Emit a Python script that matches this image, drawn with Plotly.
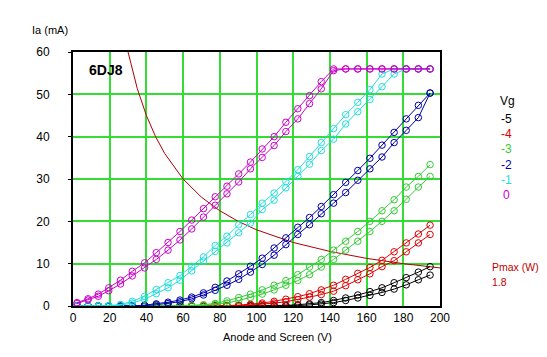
import plotly.graph_objects as go

# Anode voltage grid (V) at which each trace was sampled
V = [2.2, 8.2, 13.8, 19.5, 25.9, 32.3, 39.0, 45.4, 51.8, 58.3, 64.7, 71.1, 77.5, 83.9, 90.3,
     96.7, 103.1, 109.6, 116.0, 122.5, 128.9, 135.3, 142.0, 148.6, 155.2, 161.8, 168.4, 175.0,
     181.6, 188.2, 194.6]

# Anode current (mA), two traces per grid voltage
ia_m5_a = [0]*17 + [0.05, 0.15, 0.3, 0.5, 0.8, 1.3, 1.9, 2.6, 3.4, 4.3, 5.5, 6.7, 8.0, 9.3]
ia_m5_b = [0]*19 + [0.1, 0.25, 0.45, 0.8, 1.3, 1.9, 2.5, 3.2, 4.0, 5.0, 6.2, 7.3]

ia_m4_a = [0]*13 + [0.1, 0.2, 0.4, 0.7, 1.1, 1.6, 2.2, 2.9, 3.8, 4.9, 6.3, 7.7, 9.1, 10.8, 12.8, 14.9, 17.0, 19.1]
ia_m4_b = [0]*15 + [0.2, 0.4, 0.7, 1.0, 1.5, 2.1, 2.7, 3.5, 4.8, 6.2, 7.6, 9.3, 10.7, 12.8, 14.9, 16.9]

ia_m3_a = [0]*9 + [0.05, 0.15, 0.3, 0.6, 1.2, 2.0, 2.8, 3.8, 4.9, 6.0, 7.4, 9.2, 11.0, 13.2, 15.3,
                   17.6, 20.0, 22.5, 25.1, 28.1, 30.6, 33.4]
ia_m3_b = [0]*10 + [0.05, 0.15, 0.35, 0.7, 1.3, 2.0, 2.8, 3.8, 4.9, 6.0, 7.4, 9.2, 11.0, 13.2,
                    15.3, 17.6, 20.0, 22.5, 25.2, 28.1, 30.6]

ia_m2_a = [0]*6 + [0.2, 0.5, 0.9, 1.4, 2.1, 3.1, 4.4, 5.9, 7.6, 9.4, 11.3, 13.7, 16.1, 18.6, 20.9,
                   23.5, 26.3, 29.2, 32.0, 34.9, 38.0, 41.0, 44.2, 47.4, 50.3]
ia_m2_b = [0]*6 + [0.1, 0.3, 0.6, 1.0, 1.7, 2.6, 3.7, 4.9, 6.3, 8.0, 9.8, 12.0, 14.5, 16.9, 19.2,
                   21.8, 24.3, 26.8, 29.7, 32.4, 35.2, 38.6, 41.5, 44.5, 50.3]

ia_m1_a = [0, 0, 0, 0.1, 0.35, 1.1, 2.3, 3.9, 5.5, 7.2, 9.4, 11.6, 14.3, 16.5, 19.2, 21.6, 24.3,
           26.7, 29.4, 32.2, 35.3, 38.6, 41.9, 45.2, 48.1, 51.1, 54.8, 56, 56, 56, 56]
ia_m1_b = [0, 0, 0, 0, 0.2, 0.7, 1.6, 2.9, 4.3, 6.1, 8.3, 10.6, 12.9, 14.9, 17.3, 19.6, 22.8,
           25.0, 27.9, 30.6, 33.5, 36.7, 39.4, 43.0, 45.9, 48.8, 51.8, 54.8, 56, 56, 56]

ia_0_a = [0.8, 1.7, 2.8, 4.3, 6.1, 8.2, 10.2, 12.6, 15.0, 17.6, 20.3, 23.0, 25.8, 28.3, 31.2, 34.0,
          37.1, 40.0, 43.4, 46.6, 49.7, 53.0, 56, 56, 56, 56, 56, 56, 56, 56, 56]
ia_0_b = [0.6, 1.4, 2.3, 3.6, 5.2, 7.1, 9.0, 11.0, 13.2, 15.6, 18.2, 21.0, 23.8, 26.5, 29.3, 32.4,
          35.1, 37.9, 41.2, 44.2, 47.8, 51.3, 55.6, 56, 56, 56, 56, 56, 56, 56, 56]

# Max dissipation curve (Pmax = 1.8 W)
pmax_v = [30, 35, 40, 45, 50, 60, 70, 80, 90, 100, 120, 140, 160, 180, 200]
pmax_i = [60, 51.4, 45, 40, 36, 30, 25.7, 22.5, 20, 18, 15, 12.9, 11.25, 10, 9]

vg_labels = ["-5", "-4", "-3", "-2", "-1", "0"]
colors = ["#000000", "#e00000", "#33cc33", "#0000a8", "#22dddd", "#cc00cc"]
series = [(ia_m5_a, ia_m5_b), (ia_m4_a, ia_m4_b), (ia_m3_a, ia_m3_b),
          (ia_m2_a, ia_m2_b), (ia_m1_a, ia_m1_b), (ia_0_a, ia_0_b)]

FONT = "Liberation Sans"

fig = go.Figure()
fig.add_trace(go.Scatter(x=pmax_v, y=pmax_i, mode="lines",
                         line=dict(color="#b00000", width=1), hoverinfo="skip"))
for (a, b), c in zip(series, colors):
    for ys in (a, b):
        fig.add_trace(go.Scatter(x=V, y=ys, mode="lines+markers",
                                 line=dict(color=c, width=1),
                                 marker=dict(symbol="circle-open", size=6.5, color=c,
                                             line=dict(width=1, color=c))))

axis_common = dict(showgrid=True, gridcolor="#33dd33", gridwidth=2, zeroline=False,
                   showline=True, linecolor="black", linewidth=2, mirror=True,
                   tickfont=dict(family=FONT, size=12, color="black"))
fig.update_xaxes(range=[0, 200], dtick=20, tick0=0, ticks="", **axis_common)
fig.update_yaxes(range=[0, 60], dtick=10, tick0=0, ticks="outside", ticklen=3,
                 tickcolor="black", ticklabelstandoff=16, **axis_common)

# text positions in window pixels
ann = [
    dict(x=50, y=30, text="Ia (mA)", font=dict(size=11)),
    dict(x=106, y=70, text="<b>6DJ8</b>", font=dict(size=14)),
    dict(x=277, y=338, text="Anode and Screen (V)", font=dict(size=11)),
    dict(x=507, y=101, text="Vg", font=dict(size=12)),
    dict(x=491, y=267, text="Pmax (W):", font=dict(size=10.5, color="#c00000"), xanchor="left"),
    dict(x=491, y=282, text="1.8", font=dict(size=10.5, color="#c00000"), xanchor="left"),
]
for i, (lab, c) in enumerate(zip(vg_labels, colors)):
    ann.append(dict(x=506, y=119 + i * 15.3, text=lab, font=dict(size=12, color=c)))

# page body has an 8px margin: shift the figure so it lands on the window pixels
OFF = 8
W, H = 547 - OFF, 357 - OFF
L, T = 73 - OFF, 52 - OFF
PW, PH = 366.7, 254.5
R, B = W - L - PW, H - T - PH

annotations = []
for a in ann:
    f = dict(family=FONT, color="black")
    f.update(a["font"])
    annotations.append(dict(x=(a["x"] - OFF - L) / PW, y=1 - (a["y"] - OFF - T) / PH,
                            xref="paper", yref="paper", text=a["text"],
                            showarrow=False, font=f, xanchor=a.get("xanchor", "center"),
                            yanchor="middle", borderpad=0))

fig.update_layout(width=W, height=H, margin=dict(l=L, r=R, t=T, b=B, pad=0),
                  paper_bgcolor="white", plot_bgcolor="white", showlegend=False,
                  annotations=annotations, font=dict(family=FONT))

fig.write_html("out.html")
